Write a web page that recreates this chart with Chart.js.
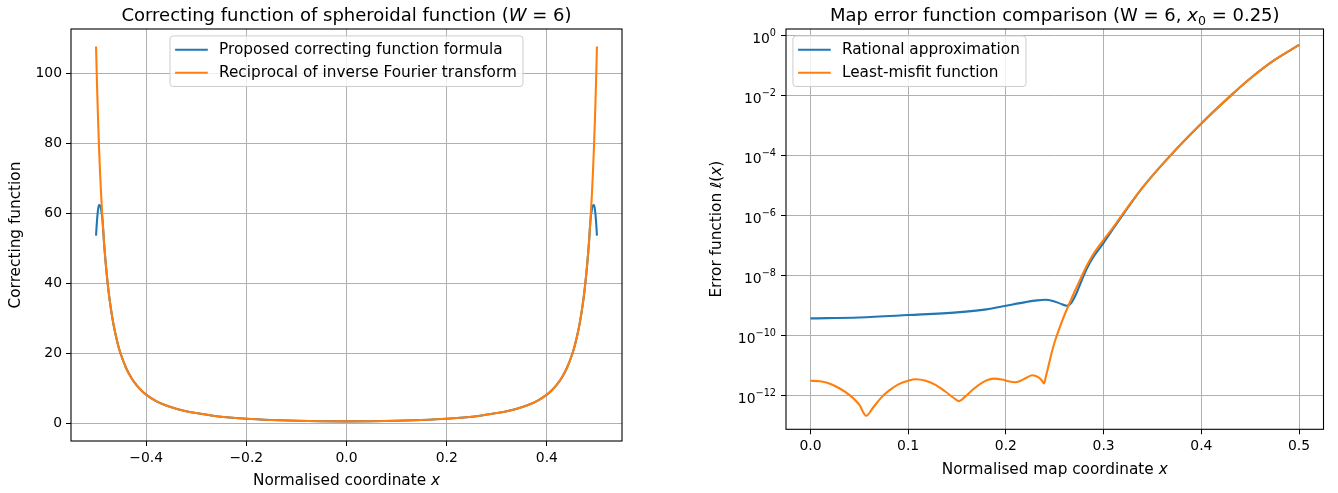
<!DOCTYPE html>
<html>
<head>
<meta charset="utf-8">
<script src="https://cdn.jsdelivr.net/npm/chart.js@4.4.0/dist/chart.umd.min.js"></script>
<style>
  html, body { margin: 0; padding: 0; background: #fff; }
  #wrap { position: relative; width: 1338px; height: 493px; overflow: hidden; }
  canvas { position: absolute; top: 0; }
  #leftChart { left: 0; }
  #rightChart { left: 669px; }
</style>
</head>
<body>
<div id="wrap">
  <canvas id="leftChart" width="669" height="493"></canvas>
  <canvas id="rightChart" width="669" height="493"></canvas>
</div>
<script>
// ---- Correcting function of the spheroidal function (W = 6) ----
const corrX = [-0.5, -0.498, -0.496, -0.494, -0.492, -0.49, -0.487, -0.484, -0.48, -0.475, -0.47, -0.465, -0.46, -0.455, -0.45, -0.44, -0.43, -0.42, -0.41, -0.4, -0.38, -0.36, -0.34, -0.32, -0.3, -0.27, -0.24, -0.2, -0.15, -0.1, -0.05,
  0,
  0.05, 0.1, 0.15, 0.2, 0.24, 0.27, 0.3, 0.32, 0.34, 0.36, 0.38, 0.4, 0.41, 0.42, 0.43, 0.44, 0.45, 0.455, 0.46, 0.465, 0.47, 0.475, 0.48, 0.484, 0.487, 0.49, 0.492, 0.494, 0.496, 0.498, 0.5];
const proposedCorr = [53.6, 58.0, 61.0, 62.3, 62.2, 61.2, 57.9, 51.5, 44.6, 37.7, 32.4, 28.1, 24.7, 21.8, 19.5, 15.8, 13.1, 11.06, 9.47, 8.21, 6.35, 5.08, 4.16, 3.47, 2.95, 2.25, 1.75, 1.3, 0.95, 0.72, 0.6,
  0.56,
  0.6, 0.72, 0.95, 1.3, 1.75, 2.25, 2.95, 3.47, 4.16, 5.08, 6.35, 8.21, 9.47, 11.06, 13.1, 15.8, 19.5, 21.8, 24.7, 28.1, 32.4, 37.7, 44.6, 51.5, 57.9, 61.2, 62.2, 62.3, 61.0, 58.0, 53.6];
const reciprocalCorr = [107.6, 96.4, 86.9, 78.7, 71.7, 65.7, 57.9, 51.5, 44.6, 37.7, 32.4, 28.1, 24.7, 21.8, 19.5, 15.8, 13.1, 11.06, 9.47, 8.21, 6.35, 5.08, 4.16, 3.47, 2.95, 2.25, 1.75, 1.3, 0.95, 0.72, 0.6,
  0.56,
  0.6, 0.72, 0.95, 1.3, 1.75, 2.25, 2.95, 3.47, 4.16, 5.08, 6.35, 8.21, 9.47, 11.06, 13.1, 15.8, 19.5, 21.8, 24.7, 28.1, 32.4, 37.7, 44.6, 51.5, 57.9, 65.7, 71.7, 78.7, 86.9, 96.4, 107.6];
const corrXTicks = [-0.4, -0.2, 0, 0.2, 0.4];
const corrXTickLabels = ['\u22120.4', '\u22120.2', '0.0', '0.2', '0.4'];
const corrYTicks = [0, 20, 40, 60, 80, 100];
const corrYTickLabels = ['0', '20', '40', '60', '80', '100'];

// ---- Map error function comparison (W = 6, x0 = 0.25) ----
const rationalX = [0, 0.05, 0.1, 0.15, 0.18, 0.2, 0.22, 0.232, 0.2405, 0.248, 0.255, 0.2625, 0.267, 0.272, 0.277, 0.283, 0.29, 0.3, 0.31, 0.32, 0.34, 0.368, 0.4, 0.4315, 0.45, 0.475, 0.5];
const rationalErr = [3.80e-10, 4.07e-10, 4.90e-10, 6.03e-10, 7.59e-10, 1.0e-9, 1.32e-9, 1.51e-9, 1.58e-9, 1.45e-9, 1.20e-9, 1.0e-9, 1.26e-9, 2.51e-9, 6.31e-9, 1.78e-8, 4.47e-8, 1.26e-7, 3.80e-7, 1.12e-6, 8.91e-6, 1.0e-4, 1.20e-3, 1.12e-2, 3.80e-2, 1.58e-1, 5.01e-1];
const misfitX = [0, 0.01, 0.02, 0.03, 0.04, 0.05, 0.057, 0.064, 0.072, 0.08,
  0.09, 0.1, 0.108, 0.118, 0.128, 0.138, 0.146, 0.152, 0.158, 0.166,
  0.175, 0.182, 0.188, 0.196, 0.203, 0.2095, 0.215, 0.221, 0.227, 0.233,
  0.237, 0.239, 0.241, 0.244, 0.247, 0.25, 0.254, 0.258, 0.262, 0.266,
  0.27, 0.275, 0.283, 0.29, 0.3, 0.31, 0.317, 0.34, 0.368, 0.4,
  0.4315, 0.45, 0.475, 0.5];
const misfitErr = [3.16e-12, 3.02e-12, 2.51e-12, 1.74e-12, 1.05e-12, 5.01e-13, 2.14e-13, 3.98e-13, 8.32e-13, 1.45e-12,
  2.40e-12, 3.16e-12, 3.55e-12, 3.16e-12, 2.29e-12, 1.38e-12, 8.71e-13, 6.61e-13, 9.12e-13, 1.58e-12,
  2.63e-12, 3.39e-12, 3.72e-12, 3.47e-12, 3.02e-12, 2.82e-12, 3.16e-12, 3.98e-12, 4.79e-12, 4.17e-12,
  3.16e-12, 2.57e-12, 4.47e-12, 1.12e-11, 2.82e-11, 6.31e-11, 1.51e-10, 3.39e-10, 7.08e-10, 1.41e-9,
  2.82e-9, 6.31e-9, 2.24e-8, 5.62e-8, 1.58e-7, 4.17e-7, 8.91e-7, 8.91e-6, 1.0e-4, 1.20e-3,
  1.12e-2, 3.80e-2, 1.58e-1, 5.01e-1];
const errXTicks = [0, 0.1, 0.2, 0.3, 0.4, 0.5];
const errXTickLabels = ['0.0', '0.1', '0.2', '0.3', '0.4', '0.5'];
const errYTicks = [1e-12, 1e-10, 1e-8, 1e-6, 1e-4, 1e-2, 1];
const errYTickBase = '10';
const errYTickExponents = ['\u221212', '\u221210', '\u22128', '\u22126', '\u22124', '\u22122', '0'];

const BLUE = '#1f77b4';
const ORANGE = '#ff7f0e';
const FAMILY = '"DejaVu Sans", sans-serif';
const TICK_PX = 13.9;
const LABEL_PX = 15.3;
const TITLE_PX = 18;
const LEGEND_PX = 15.3;

Chart.defaults.font.family = FAMILY;
Chart.defaults.color = '#000';

// Draws a run of text segments (plain / italic / subscript) centred at cx.
function drawRich(ctx, segs, cx, baseY, size, rotated) {
  const parts = segs.map(s => {
    const fs = s.sub ? size * 0.7 : size;
    const font = (s.it ? 'italic ' : '') + fs + 'px ' + FAMILY;
    ctx.font = font;
    return { t: s.t, font, w: ctx.measureText(s.t).width, dy: s.sub ? size * 0.22 : 0 };
  });
  const total = parts.reduce((acc, p) => acc + p.w, 0);
  ctx.save();
  ctx.translate(cx, baseY);
  if (rotated) ctx.rotate(-Math.PI / 2);
  ctx.fillStyle = '#000';
  ctx.textAlign = 'left';
  ctx.textBaseline = 'alphabetic';
  let x = -total / 2;
  for (const p of parts) {
    ctx.font = p.font;
    ctx.fillText(p.t, x, p.dy);
    x += p.w;
  }
  ctx.restore();
}

// Frame, titles, axis labels, power-of-ten tick labels and an in-axes legend.
const decor = {
  id: 'decor',
  afterDraw(chart, args, o) {
    const ctx = chart.ctx;
    const a = chart.chartArea;
    ctx.save();
    ctx.strokeStyle = '#000';
    ctx.lineWidth = 1.1;
    ctx.strokeRect(a.left, a.top, a.right - a.left, a.bottom - a.top);
    ctx.restore();

    const midX = (a.left + a.right) / 2;
    const midY = (a.top + a.bottom) / 2;
    drawRich(ctx, o.title, midX, a.top - 8.3, TITLE_PX, false);
    drawRich(ctx, o.xLabel, midX, o.xLabelBase, LABEL_PX, false);
    drawRich(ctx, o.yLabel, o.yLabelBase, midY, LABEL_PX, true);

    if (o.powerTicks) {
      const ys = chart.scales.y;
      const expPx = TICK_PX * 0.7;
      ctx.save();
      ctx.fillStyle = '#000';
      ctx.textBaseline = 'alphabetic';
      ctx.textAlign = 'left';
      o.powerTicks.values.forEach((v, i) => {
        const gy = ys.getPixelForValue(v);
        const ex = o.powerTicks.exponents[i];
        ctx.font = TICK_PX + 'px ' + FAMILY;
        const w1 = ctx.measureText(o.powerTicks.base).width;
        ctx.font = expPx + 'px ' + FAMILY;
        const w2 = ctx.measureText(ex).width;
        const x0 = a.left - 10 - w1 - w2;
        const base = gy + 7;
        ctx.font = TICK_PX + 'px ' + FAMILY;
        ctx.fillText(o.powerTicks.base, x0, base);
        ctx.font = expPx + 'px ' + FAMILY;
        ctx.fillText(ex, x0 + w1, base - 6.4);
      });
      ctx.restore();
    }

    // legend
    const ds = chart.data.datasets;
    ctx.save();
    ctx.font = LEGEND_PX + 'px ' + FAMILY;
    const textW = Math.max(...ds.map(d => ctx.measureText(d.label).width));
    const fs = LEGEND_PX;
    const pad = 0.4 * fs, handleLen = 2 * fs, handlePad = 0.8 * fs;
    const rowH = 1.0 * fs, rowGap = 0.5 * fs;
    const w = pad + handleLen + handlePad + textW + pad;
    const h = 2 * pad + ds.length * rowH + (ds.length - 1) * rowGap;
    const top = a.top + 0.5 * TICK_PX;
    const left = o.legendAlign === 'center' ? midX - w / 2 : a.left + 0.5 * TICK_PX;
    ctx.beginPath();
    ctx.roundRect(left, top, w, h, 0.2 * fs);
    ctx.fillStyle = 'rgba(255,255,255,0.8)';
    ctx.fill();
    ctx.strokeStyle = '#cccccc';
    ctx.lineWidth = 1;
    ctx.stroke();
    ds.forEach((d, i) => {
      const cy = top + pad + rowH / 2 + i * (rowH + rowGap);
      ctx.beginPath();
      ctx.moveTo(left + pad, cy);
      ctx.lineTo(left + pad + handleLen, cy);
      ctx.strokeStyle = d.borderColor;
      ctx.lineWidth = 2.08;
      ctx.lineCap = 'square';
      ctx.stroke();
      ctx.fillStyle = '#000';
      ctx.textBaseline = 'middle';
      ctx.textAlign = 'left';
      ctx.fillText(d.label, left + pad + handleLen + handlePad, cy);
    });
    ctx.restore();
  }
};

function fixedTicks(values) {
  return scale => { scale.ticks = values.map(v => ({ value: v })); };
}

function axisOptions(extra) {
  return Object.assign({
    grid: { color: '#b0b0b0', lineWidth: 1, tickColor: '#000', tickLength: 5, tickWidth: 1, drawTicks: true },
    border: { display: false }
  }, extra);
}

function series(xs, ys) {
  return xs.map((x, i) => ({ x, y: ys[i] }));
}

const lineStyle = { pointRadius: 0, borderWidth: 2.08, fill: false, cubicInterpolationMode: 'monotone' };

new Chart(document.getElementById('leftChart'), {
  type: 'line',
  data: {
    datasets: [
      Object.assign({ label: 'Proposed correcting function formula', data: series(corrX, proposedCorr), borderColor: BLUE, order: 1 }, lineStyle),
      Object.assign({ label: 'Reciprocal of inverse Fourier transform', data: series(corrX, reciprocalCorr), borderColor: ORANGE, order: 0 }, lineStyle)
    ]
  },
  options: {
    responsive: false,
    animation: false,
    devicePixelRatio: 1,
    events: [],
    layout: { padding: { left: 0, right: 47, top: 29, bottom: 0 } },
    scales: {
      x: axisOptions({
        type: 'linear', min: -0.55, max: 0.55,
        afterBuildTicks: fixedTicks(corrXTicks),
        afterFit: s => { s.height = 52; },
        ticks: { font: { size: TICK_PX }, color: '#000', padding: 4, maxRotation: 0, autoSkip: false,
          callback: (v, i) => corrXTickLabels[i] }
      }),
      y: axisOptions({
        type: 'linear', min: -5.05, max: 112.6,
        afterBuildTicks: fixedTicks(corrYTicks),
        afterFit: s => { s.width = 71; },
        ticks: { font: { size: TICK_PX }, color: '#000', padding: 4, autoSkip: false,
          callback: (v, i) => corrYTickLabels[i] }
      })
    },
    plugins: {
      legend: { display: false },
      tooltip: { enabled: false },
      decor: {
        title: [{ t: 'Correcting function of spheroidal function (' }, { t: 'W', it: true }, { t: ' = 6)' }],
        xLabel: [{ t: 'Normalised coordinate ' }, { t: 'x', it: true }],
        yLabel: [{ t: 'Correcting function' }],
        xLabelBase: 485,
        yLabelBase: 19.5,
        legendAlign: 'center'
      }
    }
  },
  plugins: [decor]
});

new Chart(document.getElementById('rightChart'), {
  type: 'line',
  data: {
    datasets: [
      Object.assign({ label: 'Rational approximation', data: series(rationalX, rationalErr), borderColor: BLUE, order: 1 }, lineStyle),
      Object.assign({ label: 'Least-misfit function', data: series(misfitX, misfitErr), borderColor: ORANGE, order: 0 }, lineStyle)
    ]
  },
  options: {
    responsive: false,
    animation: false,
    devicePixelRatio: 1,
    events: [],
    layout: { padding: { left: 0, right: 14.5, top: 29, bottom: 0 } },
    scales: {
      x: axisOptions({
        type: 'linear', min: -0.025, max: 0.525,
        afterBuildTicks: fixedTicks(errXTicks),
        afterFit: s => { s.height = 63.7; },
        ticks: { font: { size: TICK_PX }, color: '#000', padding: 4, maxRotation: 0, autoSkip: false,
          callback: (v, i) => errXTickLabels[i] }
      }),
      y: axisOptions({
        type: 'logarithmic', min: Math.pow(10, -13.12), max: Math.pow(10, 0.23),
        afterBuildTicks: fixedTicks(errYTicks),
        afterFit: s => { s.width = 117; },
        ticks: { display: false }
      })
    },
    plugins: {
      legend: { display: false },
      tooltip: { enabled: false },
      decor: {
        title: [{ t: 'Map error function comparison (W = 6, ' }, { t: 'x', it: true }, { t: '0', sub: true }, { t: ' = 0.25)' }],
        xLabel: [{ t: 'Normalised map coordinate ' }, { t: 'x', it: true }],
        yLabel: [{ t: 'Error function ' }, { t: '\u2113', it: true }, { t: '(' }, { t: 'x', it: true }, { t: ')' }],
        xLabelBase: 473.5,
        yLabelBase: 52,
        legendAlign: 'left',
        powerTicks: { values: errYTicks, base: errYTickBase, exponents: errYTickExponents }
      }
    }
  },
  plugins: [decor]
});
</script>
</body>
</html>
